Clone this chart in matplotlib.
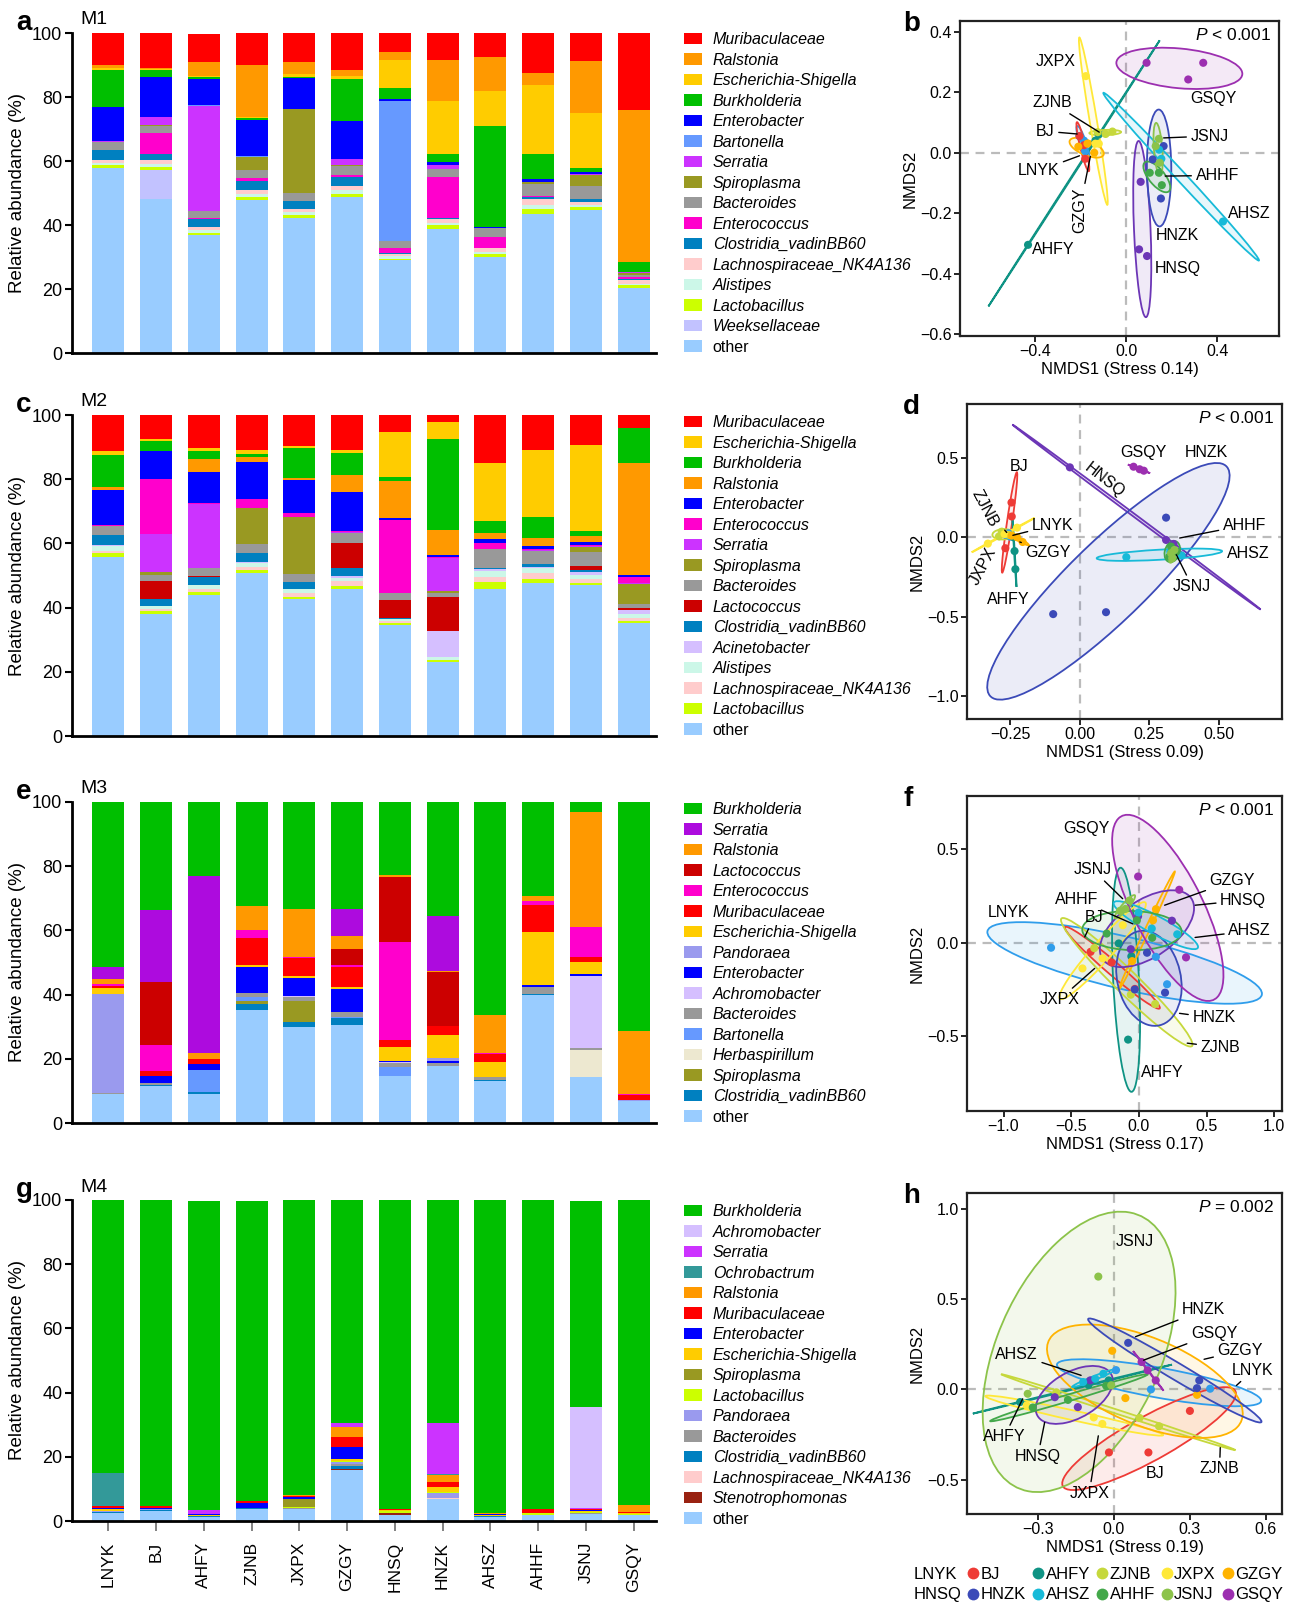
import numpy as np
import matplotlib
matplotlib.use('Agg')
import matplotlib.pyplot as plt
from matplotlib.patches import Patch, Ellipse
from matplotlib.lines import Line2D

plt.rcParams['font.family'] = ['Liberation Sans', 'DejaVu Sans']
plt.rcParams['mathtext.fontset'] = 'custom'
plt.rcParams['mathtext.it'] = 'Liberation Sans:italic'
plt.rcParams['mathtext.rm'] = 'Liberation Sans'
plt.rcParams['axes.unicode_minus'] = True

SITES = ['LNYK', 'BJ', 'AHFY', 'ZJNB', 'JXPX', 'GZGY', 'HNSQ', 'HNZK', 'AHSZ', 'AHHF', 'JSNJ', 'GSQY']

# ---------------- M1 relative abundance (%) ----------------
M1_MURIBACULACEAE = [9.9, 10.8, 9.0, 9.9, 9.2, 11.7, 5.8, 8.3, 7.4, 12.4, 8.9, 24.2]
M1_RALSTONIA = [0.9, 0.3, 4.2, 16.2, 3.5, 1.6, 2.5, 13.1, 10.6, 3.7, 16.2, 47.3]
M1_ESCHERICHIA = [0.9, 0.6, 0.5, 0.5, 0.9, 1.2, 9.0, 16.5, 11.2, 21.8, 17.2, 0.0]
M1_BURKHOLDERIA = [11.3, 1.9, 0.6, 0.7, 0.6, 13.1, 3.2, 2.5, 31.4, 7.8, 1.1, 3.1]
M1_ENTEROBACTER = [10.9, 12.8, 8.1, 11.1, 9.4, 11.9, 0.6, 0.9, 0.4, 0.9, 0.7, 0.0]
M1_BARTONELLA = [0.0, 0.0, 0.2, 0.4, 0.3, 0.0, 43.9, 0.0, 0.0, 0.0, 0.0, 0.0]
M1_SERRATIA = [0.2, 2.3, 32.9, 0.0, 0.0, 1.7, 0.0, 1.3, 0.0, 0.0, 0.3, 0.5]
M1_SPIROPLASMA = [0.0, 0.3, 0.0, 4.1, 26.2, 0.3, 0.0, 0.0, 0.0, 0.6, 3.5, 0.5]
M1_BACTEROIDES = [2.6, 2.4, 2.0, 2.5, 2.4, 2.9, 2.2, 2.5, 2.8, 3.8, 3.9, 0.6]
M1_ENTEROCOCCUS = [0.0, 6.3, 0.5, 1.0, 0.0, 0.7, 1.6, 12.7, 3.4, 0.3, 0.0, 0.7]
M1_CLOSTRIDIA = [2.9, 2.1, 2.4, 2.8, 2.5, 2.8, 0.3, 0.4, 0.0, 0.6, 1.0, 0.3]
M1_LACHNO = [0.9, 1.0, 1.0, 1.2, 0.9, 1.2, 0.6, 1.2, 1.2, 1.9, 0.8, 1.1]
M1_ALISTIPES = [0.8, 1.2, 0.8, 0.9, 0.9, 1.3, 0.8, 0.6, 0.7, 1.3, 0.9, 0.5]
M1_LACTOBACILLUS = [0.9, 0.9, 0.7, 0.9, 0.9, 0.9, 0.3, 1.3, 0.9, 1.5, 0.8, 0.8]
M1_WEEKSELLACEAE = [0.0, 9.1, 0.0, 0.0, 0.0, 0.0, 0.0, 0.0, 0.0, 0.0, 0.0, 0.0]
M1_OTHER = [57.8, 48.0, 36.9, 47.8, 42.3, 48.7, 29.2, 38.7, 30.0, 43.4, 44.7, 20.4]

# ---------------- M2 ----------------
M2_MURIBACULACEAE = [11.2, 7.5, 10.3, 10.9, 9.6, 10.9, 5.3, 2.2, 14.9, 10.9, 9.3, 4.0]
M2_ESCHERICHIA = [1.3, 0.6, 0.9, 1.2, 0.6, 0.9, 14.0, 5.3, 18.1, 20.8, 26.8, 0.0]
M2_BURKHOLDERIA = [10.0, 3.1, 2.5, 1.0, 9.4, 6.9, 1.2, 28.3, 3.7, 6.5, 1.5, 10.9]
M2_RALSTONIA = [0.8, 0.0, 4.0, 1.4, 0.6, 5.2, 11.5, 7.7, 1.8, 2.5, 1.9, 34.8]
M2_ENTEROBACTER = [11.1, 8.7, 9.6, 11.6, 10.3, 12.2, 0.6, 0.6, 1.3, 1.0, 1.1, 0.7]
M2_ENTEROCOCCUS = [0.3, 17.1, 0.3, 2.8, 1.2, 0.2, 22.7, 0.4, 1.9, 0.3, 0.1, 1.8]
M2_SERRATIA = [0.0, 11.8, 20.0, 0.0, 0.0, 0.4, 0.0, 10.4, 0.0, 0.3, 0.3, 0.6]
M2_SPIROPLASMA = [0.0, 0.9, 0.0, 11.4, 17.7, 0.0, 0.0, 0.4, 0.0, 0.0, 1.6, 6.0]
M2_BACTEROIDES = [2.8, 1.9, 2.5, 2.8, 2.5, 3.1, 2.2, 1.3, 5.9, 4.0, 4.3, 1.2]
M2_LACTOCOCCUS = [0.0, 5.6, 0.3, 0.0, 0.0, 7.8, 5.6, 10.6, 0.0, 0.0, 1.5, 0.9]
M2_CLOSTRIDIA = [2.9, 2.2, 2.6, 2.6, 2.2, 2.7, 0.3, 0.0, 0.3, 1.0, 0.4, 0.0]
M2_ACINETOBACTER = [0.5, 0.0, 0.0, 0.4, 0.0, 0.4, 0.0, 8.2, 0.6, 0.5, 0.9, 1.0]
M2_ALISTIPES = [1.4, 0.9, 1.1, 1.4, 1.4, 1.1, 0.8, 1.0, 1.9, 1.3, 1.3, 1.4]
M2_LACHNO = [0.6, 0.9, 0.9, 0.7, 1.1, 1.4, 0.5, 0.0, 1.5, 1.9, 1.4, 0.9]
M2_LACTOBACILLUS = [1.2, 0.7, 1.0, 1.1, 0.8, 0.9, 0.6, 0.7, 2.2, 1.2, 0.7, 0.5]
M2_OTHER = [55.9, 38.1, 44.0, 50.7, 42.6, 45.9, 34.7, 22.9, 45.9, 47.8, 46.9, 35.3]

# ---------------- M3 ----------------
M3_BURKHOLDERIA = [51.5, 33.5, 22.9, 32.5, 33.2, 33.2, 22.6, 35.6, 66.4, 29.4, 3.0, 71.4]
M3_SERRATIA = [3.7, 22.7, 55.3, 0.0, 0.0, 8.7, 0.0, 17.1, 0.0, 0.0, 0.0, 0.0]
M3_RALSTONIA = [1.6, 0.0, 1.9, 7.5, 15.2, 4.0, 0.9, 0.4, 11.8, 1.3, 35.8, 19.6]
M3_LACTOCOCCUS = [0.0, 19.6, 0.0, 0.0, 0.0, 5.0, 20.2, 16.7, 0.0, 0.0, 0.0, 0.0]
M3_ENTEROCOCCUS = [0.5, 8.0, 0.0, 2.5, 0.3, 0.6, 30.5, 0.0, 0.3, 1.5, 9.6, 0.3]
M3_MURIBACULACEAE = [0.7, 1.6, 1.6, 8.4, 5.6, 6.2, 2.2, 2.8, 2.5, 8.4, 1.5, 1.6]
M3_ESCHERICHIA = [1.9, 0.0, 0.0, 0.6, 0.6, 0.6, 4.3, 7.2, 4.7, 16.5, 3.8, 0.0]
M3_PANDORAEA = [30.8, 0.0, 0.0, 0.0, 0.0, 0.0, 0.0, 0.9, 0.0, 0.0, 0.0, 0.3]
M3_ENTEROBACTER = [0.0, 2.2, 1.8, 8.1, 5.6, 7.2, 0.3, 0.6, 0.0, 0.6, 0.6, 0.0]
M3_ACHROMOBACTER = [0.0, 0.0, 0.0, 0.0, 0.3, 0.0, 0.3, 0.0, 0.0, 0.0, 22.4, 0.0]
M3_BACTEROIDES = [0.3, 0.6, 0.0, 1.2, 1.3, 1.6, 1.3, 1.0, 0.9, 2.2, 0.6, 0.0]
M3_BARTONELLA = [0.0, 0.0, 6.9, 1.3, 0.0, 0.3, 2.8, 0.0, 0.0, 0.0, 0.0, 0.0]
M3_HERBASPIRILLUM = [0.0, 0.0, 0.0, 0.0, 0.0, 0.0, 0.0, 0.0, 0.0, 0.0, 8.4, 0.0]
M3_SPIROPLASMA = [0.0, 0.0, 0.0, 0.9, 6.5, 0.0, 0.0, 0.0, 0.0, 0.0, 0.0, 0.0]
M3_CLOSTRIDIA = [0.0, 0.3, 0.6, 1.9, 1.6, 2.1, 0.0, 0.0, 0.3, 0.3, 0.0, 0.0]
M3_OTHER = [9.0, 11.5, 9.0, 35.1, 29.8, 30.5, 14.6, 17.7, 13.1, 39.8, 14.3, 6.8]

# ---------------- M4 ----------------
M4_BURKHOLDERIA = [84.9, 95.3, 96.4, 93.5, 91.9, 69.4, 96.3, 69.6, 97.6, 96.4, 64.1, 95.1]
M4_ACHROMOBACTER = [0.0, 0.0, 0.0, 0.0, 0.0, 0.0, 0.0, 0.0, 0.0, 0.0, 31.4, 0.0]
M4_SERRATIA = [0.0, 0.0, 1.0, 0.0, 0.0, 1.4, 0.0, 15.9, 0.0, 0.0, 0.4, 0.0]
M4_OCHROBACTRUM = [10.5, 0.0, 0.0, 0.0, 0.0, 0.0, 0.0, 0.2, 0.0, 0.0, 0.0, 0.0]
M4_RALSTONIA = [0.0, 0.0, 0.0, 0.0, 0.2, 2.9, 0.0, 2.3, 0.3, 0.0, 0.0, 2.1]
M4_MURIBACULACEAE = [0.5, 0.5, 0.0, 0.7, 0.3, 3.3, 0.3, 1.3, 0.0, 1.0, 0.3, 0.3]
M4_ENTEROBACTER = [0.3, 0.5, 0.3, 1.3, 0.6, 3.8, 0.0, 0.0, 0.3, 0.0, 0.4, 0.0]
M4_ESCHERICHIA = [0.6, 0.0, 0.4, 0.0, 0.3, 0.5, 0.3, 1.8, 0.3, 0.0, 0.3, 0.3]
M4_SPIROPLASMA = [0.0, 0.0, 0.0, 0.0, 2.4, 0.0, 0.0, 0.0, 0.0, 0.0, 0.0, 0.0]
M4_LACTOBACILLUS = [0.0, 0.0, 0.0, 0.3, 0.4, 0.4, 0.5, 0.3, 0.0, 0.7, 0.3, 0.3]
M4_PANDORAEA = [0.3, 0.3, 0.0, 0.0, 0.0, 0.6, 0.0, 1.3, 0.0, 0.0, 0.0, 0.0]
M4_BACTEROIDES = [0.0, 0.0, 0.0, 0.0, 0.3, 0.6, 0.0, 0.0, 0.0, 0.0, 0.3, 0.0]
M4_CLOSTRIDIA = [0.3, 0.3, 0.3, 0.3, 0.0, 1.0, 0.0, 0.0, 0.3, 0.0, 0.0, 0.0]
M4_LACHNO = [0.0, 0.0, 0.0, 0.0, 0.0, 0.0, 0.0, 0.4, 0.0, 0.0, 0.0, 0.0]
M4_STENOTROPHOMONAS = [0.0, 0.0, 0.0, 0.0, 0.0, 0.3, 0.8, 0.0, 0.0, 0.0, 0.0, 0.0]
M4_OTHER = [2.6, 3.1, 1.3, 3.6, 3.6, 15.8, 1.8, 6.9, 1.2, 1.9, 2.2, 1.9]

# ---------------- NMDS scores (3 replicates per site, site order as SITES) ----------------
B_X = [-0.205, -0.18, -0.185, -0.205, -0.18, -0.185, -0.431, -0.12, -0.135, -0.125, -0.06, -0.09,
       -0.177, -0.135, -0.12, -0.21, -0.14, -0.17, 0.064, 0.057, 0.092, 0.165, 0.117, 0.153,
       0.426, 0.145, 0.155, 0.104, 0.144, 0.157, 0.144, 0.13, 0.148, 0.09, 0.273, 0.339]
B_Y = [0.055, 0.005, 0.04, 0.055, -0.02, 0.025, -0.304, 0.06, 0.04, 0.068, 0.07, 0.062,
       0.253, 0.03, 0.03, 0.02, 0.0, 0.03, -0.096, -0.319, -0.341, 0.022, -0.022, -0.151,
       -0.227, 0.01, -0.02, -0.066, -0.066, -0.107, 0.046, 0.022, -0.033, 0.297, 0.242, 0.297]

D_X = [-0.266, -0.25, -0.256, -0.245, -0.267, -0.244, -0.231, -0.238, -0.234, -0.28, -0.255, -0.29,
       -0.33, -0.27, -0.225, -0.245, -0.205, -0.225, -0.035, 0.311, 0.338, 0.311, -0.095, 0.095,
       0.168, 0.326, 0.367, 0.329, 0.323, 0.348, 0.329, 0.341, 0.333, 0.194, 0.216, 0.231]
D_Y = [0.015, 0.004, 0.025, 0.218, -0.069, 0.13, -0.201, 0.0, -0.087, 0.035, 0.015, 0.005,
       -0.04, 0.02, 0.06, 0.01, -0.03, 0.0, 0.439, -0.017, -0.042, 0.123, -0.483, -0.471,
       -0.125, -0.09, -0.115, -0.059, -0.121, -0.09, -0.1, -0.08, -0.132, 0.443, 0.427, 0.418]

F_X = [-0.649, 0.125, 0.208, -0.357, -0.03, -0.202, -0.08, -0.149, -0.056, -0.33, 0.12, -0.06,
       -0.268, -0.119, -0.417, 0.104, -0.05, 0.126, 0.244, -0.06, -0.006, 0.06, 0.193, -0.031,
       0.283, 0.095, -0.003, -0.238, 0.098, -0.015, -0.14, -0.07, -0.1, -0.006, 0.298, 0.348]
F_Y = [-0.028, -0.077, -0.224, -0.05, -0.249, -0.107, -0.521, -0.005, -0.074, -0.03, -0.33, -0.28,
       -0.085, 0.093, -0.139, 0.119, -0.1, 0.179, 0.117, -0.036, 0.141, -0.055, -0.269, -0.252,
       0.044, 0.075, 0.16, 0.048, 0.025, 0.119, 0.17, 0.225, 0.18, 0.354, 0.283, -0.08]

H_X = [0.147, 0.381, 0.009, -0.019, 0.137, 0.301, -0.37, -0.1, -0.02, 0.179, 0.102, -0.227,
       -0.045, -0.344, -0.079, -0.006, 0.046, 0.329, -0.093, -0.142, -0.233, 0.057, 0.338, 0.329,
       -0.041, -0.121, -0.073, -0.32, -0.03, -0.181, -0.061, -0.34, -0.01, 0.11, 0.166, 0.134]
H_Y = [0.0, 0.004, 0.107, -0.349, -0.349, -0.119, -0.07, 0.025, 0.05, -0.204, -0.158, -0.016,
       -0.191, -0.089, -0.155, 0.214, -0.048, -0.03, 0.05, -0.098, -0.043, 0.258, 0.05, 0.007,
       0.087, 0.041, 0.059, -0.1, 0.02, -0.058, 0.625, -0.024, 0.023, 0.152, 0.05, 0.106]

STRESS = ['0.14', '0.09', '0.17', '0.19']
P_TEXT = ['< 0.001', '< 0.001', '< 0.001', '= 0.002']

# ---------------- styling ----------------
TAXON_COLORS = {
    'Muribaculaceae': '#FF0000', 'Ralstonia': '#FF9900', 'Escherichia-Shigella': '#FFCC00',
    'Burkholderia': '#00BF00', 'Enterobacter': '#0000FF', 'Bartonella': '#6699FF',
    'Serratia': '#CC33FF', 'Spiroplasma': '#999922', 'Bacteroides': '#999999',
    'Enterococcus': '#FF00CC', 'Clostridia_vadinBB60': '#0080C0',
    'Lachnospiraceae_NK4A136': '#FFCCCC', 'Alistipes': '#CCF7E8', 'Lactobacillus': '#CCFF00',
    'Weeksellaceae': '#C2C2FF', 'other': '#99CCFF', 'Lactococcus': '#CC0000',
    'Acinetobacter': '#D5BFFF', 'Pandoraea': '#9A9AEE', 'Achromobacter': '#D5BFFF',
    'Herbaspirillum': '#EDE8D0', 'Ochrobactrum': '#339999', 'Stenotrophomonas': '#992211'}

SITE_COLORS = {'LNYK': '#2F9DEB', 'BJ': '#EE3B36', 'AHFY': '#0F9384', 'ZJNB': '#C6D83C',
               'JXPX': '#FFE838', 'GZGY': '#FFB300', 'HNSQ': '#6C36B6', 'HNZK': '#3B4AB8',
               'AHSZ': '#17BAD8', 'AHHF': '#43A84A', 'JSNJ': '#8CC34A', 'GSQY': '#9C2FB0'}

PANELS = [
    ('M1', [('Muribaculaceae', M1_MURIBACULACEAE), ('Ralstonia', M1_RALSTONIA),
            ('Escherichia-Shigella', M1_ESCHERICHIA), ('Burkholderia', M1_BURKHOLDERIA),
            ('Enterobacter', M1_ENTEROBACTER), ('Bartonella', M1_BARTONELLA),
            ('Serratia', M1_SERRATIA), ('Spiroplasma', M1_SPIROPLASMA),
            ('Bacteroides', M1_BACTEROIDES), ('Enterococcus', M1_ENTEROCOCCUS),
            ('Clostridia_vadinBB60', M1_CLOSTRIDIA), ('Lachnospiraceae_NK4A136', M1_LACHNO),
            ('Alistipes', M1_ALISTIPES), ('Lactobacillus', M1_LACTOBACILLUS),
            ('Weeksellaceae', M1_WEEKSELLACEAE), ('other', M1_OTHER)], {}),
    ('M2', [('Muribaculaceae', M2_MURIBACULACEAE), ('Escherichia-Shigella', M2_ESCHERICHIA),
            ('Burkholderia', M2_BURKHOLDERIA), ('Ralstonia', M2_RALSTONIA),
            ('Enterobacter', M2_ENTEROBACTER), ('Enterococcus', M2_ENTEROCOCCUS),
            ('Serratia', M2_SERRATIA), ('Spiroplasma', M2_SPIROPLASMA),
            ('Bacteroides', M2_BACTEROIDES), ('Lactococcus', M2_LACTOCOCCUS),
            ('Clostridia_vadinBB60', M2_CLOSTRIDIA), ('Acinetobacter', M2_ACINETOBACTER),
            ('Alistipes', M2_ALISTIPES), ('Lachnospiraceae_NK4A136', M2_LACHNO),
            ('Lactobacillus', M2_LACTOBACILLUS), ('other', M2_OTHER)], {}),
    ('M3', [('Burkholderia', M3_BURKHOLDERIA), ('Serratia', M3_SERRATIA),
            ('Ralstonia', M3_RALSTONIA), ('Lactococcus', M3_LACTOCOCCUS),
            ('Enterococcus', M3_ENTEROCOCCUS), ('Muribaculaceae', M3_MURIBACULACEAE),
            ('Escherichia-Shigella', M3_ESCHERICHIA), ('Pandoraea', M3_PANDORAEA),
            ('Enterobacter', M3_ENTEROBACTER), ('Achromobacter', M3_ACHROMOBACTER),
            ('Bacteroides', M3_BACTEROIDES), ('Bartonella', M3_BARTONELLA),
            ('Herbaspirillum', M3_HERBASPIRILLUM), ('Spiroplasma', M3_SPIROPLASMA),
            ('Clostridia_vadinBB60', M3_CLOSTRIDIA), ('other', M3_OTHER)], {'Serratia': '#AD0BDE'}),
    ('M4', [('Burkholderia', M4_BURKHOLDERIA), ('Achromobacter', M4_ACHROMOBACTER),
            ('Serratia', M4_SERRATIA), ('Ochrobactrum', M4_OCHROBACTRUM),
            ('Ralstonia', M4_RALSTONIA), ('Muribaculaceae', M4_MURIBACULACEAE),
            ('Enterobacter', M4_ENTEROBACTER), ('Escherichia-Shigella', M4_ESCHERICHIA),
            ('Spiroplasma', M4_SPIROPLASMA), ('Lactobacillus', M4_LACTOBACILLUS),
            ('Pandoraea', M4_PANDORAEA), ('Bacteroides', M4_BACTEROIDES),
            ('Clostridia_vadinBB60', M4_CLOSTRIDIA), ('Lachnospiraceae_NK4A136', M4_LACHNO),
            ('Stenotrophomonas', M4_STENOTROPHOMONAS), ('other', M4_OTHER)], {}),
]

W, H = 1295, 1604
fig = plt.figure(figsize=(W / 100, H / 100), dpi=100)


def fbox(x0, y0, x1, y1):
    return [x0 / W, 1 - y1 / H, (x1 - x0) / W, (y1 - y0) / H]


BAR_ROWS = [(33, 353), (415, 736), (802, 1123), (1200, 1521)]
LEG_TOPS = [32, 415, 802, 1204]
NMDS_BOXES = [(960, 21, 1279, 336), (967, 404, 1282, 719), (967, 796, 1282, 1111), (967, 1193, 1282, 1514)]
LETTERS_L = ['a', 'c', 'e', 'g']
LETTERS_R = ['b', 'd', 'f', 'h']

x = np.arange(len(SITES))
for r, (mname, taxa, override) in enumerate(PANELS):
    top, bot = BAR_ROWS[r]
    ax = fig.add_axes(fbox(72, top, 656, bot))
    bottom = np.zeros(len(SITES))
    handles = []
    for name, vals in reversed(taxa):
        col = override.get(name, TAXON_COLORS[name])
        v = np.array(vals, dtype=float)
        ax.bar(x, v, width=0.67, bottom=bottom, color=col, edgecolor='none', linewidth=0)
        bottom += v
    for name, vals in taxa:
        col = override.get(name, TAXON_COLORS[name])
        handles.append(Patch(facecolor=col, edgecolor='none', label=name))
    ax.set_xlim(-0.76, 11.47)
    ax.set_ylim(0, 100)
    ax.set_yticks([0, 20, 40, 60, 80, 100])
    ax.tick_params(axis='y', labelsize=13, length=5, width=1.5, pad=2)
    for s in ['top', 'right']:
        ax.spines[s].set_visible(False)
    ax.spines['left'].set_linewidth(2)
    ax.spines['bottom'].set_linewidth(2)
    ax.set_ylabel('Relative abundance (%)', fontsize=13.5, labelpad=4)
    if r == 3:
        ax.set_xticks(x)
        ax.set_xticklabels(SITES, rotation=90, fontsize=12.5)
        ax.tick_params(axis='x', length=7, width=1.3, color='#777777', pad=8)
    else:
        ax.set_xticks([])
    fig.text(16 / W, 1 - (top - 10) / H, LETTERS_L[r], fontsize=20, fontweight='bold', va='center', ha='left')
    fig.text(80 / W, 1 - (top - 13) / H, mname, fontsize=14, va='center', ha='left')
    leg = fig.legend(handles=handles, loc='upper left', bbox_to_anchor=(684 / W, 1 - LEG_TOPS[r] / H),
                     frameon=False, fontsize=11.5, handlelength=1.1, handleheight=0.7,
                     handletextpad=0.7, labelspacing=0.345, borderpad=0, borderaxespad=0)
    for t in leg.get_texts():
        if t.get_text() != 'other':
            t.set_fontstyle('italic')

# ---------------- NMDS panels ----------------
ELL_SCALE = np.sqrt(-2 * np.log(0.10))  # 90 % normal-theory confidence ellipse


def minus(v, fmt):
    return (fmt % v).replace('-', '\u2212')


NMDS_DATA = [(B_X, B_Y), (D_X, D_Y), (F_X, F_Y), (H_X, H_Y)]
XLIMS = [(-0.73, 0.672), (-0.405, 0.728), (-1.27, 1.057), (-0.58, 0.665)]
YLIMS = [(-0.605, 0.435), (-1.142, 0.837), (-0.904, 0.786), (-0.69, 1.088)]
XTICKS = [([-0.4, 0.0, 0.4], '%.1f'), ([-0.25, 0.0, 0.25, 0.5], '%.2f'),
          ([-1.0, -0.5, 0.0, 0.5, 1.0], '%.1f'), ([-0.3, 0.0, 0.3, 0.6], '%.1f')]
YTICKS = [([-0.6, -0.4, -0.2, 0.0, 0.2, 0.4], '%.1f'), ([-1.0, -0.5, 0.0, 0.5], '%.1f'),
          ([-0.5, 0.0, 0.5], '%.1f'), ([-0.5, 0.0, 0.5, 1.0], '%.1f')]

# label: (site, text x, text y, leader target or None, ha, rotation)
LABELS = [
    [('JXPX', -0.31, 0.302, None, 'center', 0), ('GSQY', 0.383, 0.178, None, 'center', 0),
     ('ZJNB', -0.325, 0.165, (-0.118, 0.068), 'center', 0), ('BJ', -0.355, 0.071, (-0.215, 0.062), 'center', 0),
     ('LNYK', -0.385, -0.06, (-0.205, -0.01), 'center', 0), ('GZGY', -0.205, -0.19, (-0.157, -0.012), 'center', 90),
     ('JSNJ', 0.283, 0.055, (0.165, 0.049), 'left', 0), ('AHHF', 0.305, -0.075, (0.172, -0.077), 'left', 0),
     ('AHSZ', 0.54, -0.2, None, 'center', 0), ('HNZK', 0.226, -0.272, None, 'center', 0),
     ('HNSQ', 0.226, -0.383, None, 'center', 0), ('AHFY', -0.415, -0.32, None, 'left', 0)],
    [('BJ', -0.218, 0.445, None, 'center', 0), ('ZJNB', -0.34, 0.182, (-0.262, 0.03), 'center', -62),
     ('LNYK', -0.172, 0.075, (-0.24, 0.012), 'left', 0), ('GZGY', -0.195, -0.095, (-0.215, -0.03), 'left', 0),
     ('JXPX', -0.348, -0.185, None, 'center', 62), ('AHFY', -0.256, -0.39, None, 'center', 0),
     ('HNSQ', 0.09, 0.36, None, 'center', -38), ('GSQY', 0.231, 0.535, None, 'center', 0),
     ('HNZK', 0.455, 0.535, None, 'center', 0), ('AHHF', 0.515, 0.075, (0.36, -0.005), 'left', 0),
     ('AHSZ', 0.53, -0.1, None, 'left', 0), ('JSNJ', 0.405, -0.31, (0.348, -0.11), 'center', 0)],
    [('GSQY', -0.39, 0.61, None, 'center', 0), ('JSNJ', -0.34, 0.39, (-0.12, 0.235), 'center', 0),
     ('GZGY', 0.69, 0.33, (0.19, 0.2), 'center', 0), ('HNSQ', 0.6, 0.226, (0.415, 0.2), 'left', 0),
     ('AHHF', -0.46, 0.232, (-0.045, 0.1), 'center', 0), ('LNYK', -0.965, 0.16, None, 'center', 0),
     ('BJ', -0.333, 0.135, (-0.4, 0.03), 'center', 0), ('AHSZ', 0.66, 0.062, (0.415, 0.027), 'left', 0),
     ('JXPX', -0.585, -0.305, (-0.327, -0.139), 'center', 0), ('HNZK', 0.395, -0.405, (0.3, -0.38), 'left', 0),
     ('ZJNB', 0.455, -0.562, (0.357, -0.54), 'left', 0), ('AHFY', 0.175, -0.7, None, 'center', 0)],
    [('JSNJ', 0.083, 0.82, None, 'center', 0), ('HNZK', 0.27, 0.44, (0.086, 0.292), 'left', 0),
     ('GSQY', 0.305, 0.31, (0.118, 0.162), 'left', 0), ('GZGY', 0.41, 0.214, (0.357, 0.167), 'left', 0),
     ('LNYK', 0.55, 0.106, (0.485, 0.022), 'center', 0), ('AHSZ', -0.384, 0.195, (-0.129, 0.078), 'center', 0),
     ('AHFY', -0.432, -0.262, (-0.36, -0.052), 'center', 0), ('HNSQ', -0.3, -0.37, (-0.273, -0.182), 'center', 0),
     ('JXPX', -0.097, -0.575, (-0.061, -0.257), 'center', 0), ('BJ', 0.163, -0.465, None, 'center', 0),
     ('ZJNB', 0.418, -0.44, (0.421, -0.322), 'center', 0)],
]

for r in range(4):
    X, Y = NMDS_DATA[r]
    ax = fig.add_axes(fbox(*NMDS_BOXES[r]))
    ax.set_xlim(*XLIMS[r])
    ax.set_ylim(*YLIMS[r])
    ax.axhline(0, color='#BBBBBB', lw=1.6, ls=(0, (4, 3)), zorder=0)
    ax.axvline(0, color='#BBBBBB', lw=1.6, ls=(0, (4, 3)), zorder=0)
    for i, site in enumerate(SITES):
        pts = np.column_stack([X[3 * i:3 * i + 3], Y[3 * i:3 * i + 3]])
        mu = pts.mean(axis=0)
        cov = np.cov(pts.T)
        vals, vecs = np.linalg.eigh(cov)
        order = vals.argsort()[::-1]
        vals, vecs = np.maximum(vals[order], 0), vecs[:, order]
        ang = np.degrees(np.arctan2(vecs[1, 0], vecs[0, 0]))
        w, h = 2 * ELL_SCALE * np.sqrt(vals)
        c = SITE_COLORS[site]
        ax.add_patch(Ellipse(mu, w, h, angle=ang, facecolor=c, edgecolor='none', alpha=0.1, zorder=1))
        ax.add_patch(Ellipse(mu, w, h, angle=ang, facecolor='none', edgecolor=c, lw=1.3, zorder=2))
    for i, site in enumerate(SITES):
        ax.scatter(X[3 * i:3 * i + 3], Y[3 * i:3 * i + 3], s=34, color=SITE_COLORS[site],
                   edgecolor='none', zorder=3)
    for (site, tx, ty, tgt, ha, rot) in LABELS[r]:
        if tgt is None:
            ax.text(tx, ty, site, fontsize=11.5, ha=ha, va='center', rotation=rot, zorder=5)
        else:
            ax.annotate(site, xy=tgt, xytext=(tx, ty), fontsize=11.5, ha=ha, va='center', rotation=rot,
                        arrowprops=dict(arrowstyle='-', lw=1.0, color='black', shrinkA=1, shrinkB=0),
                        zorder=5)
    ax.text(0.975, 0.955, r'$\it{P}$ ' + P_TEXT[r], transform=ax.transAxes, fontsize=12.5,
            ha='right', va='center')
    xt, xf = XTICKS[r]
    yt, yf = YTICKS[r]
    ax.set_xticks(xt)
    ax.set_xticklabels([minus(v, xf) for v in xt])
    ax.set_yticks(yt)
    ax.set_yticklabels([minus(v, yf) for v in yt])
    ax.tick_params(labelsize=11.5, length=4, width=1.2, pad=2)
    for s in ax.spines.values():
        s.set_linewidth(1.6)
        s.set_color('#222222')
    ax.set_xlabel('NMDS1 (Stress %s)' % STRESS[r], fontsize=12, labelpad=2)
    ax.set_ylabel('NMDS2', fontsize=12, labelpad=2)
    y0 = NMDS_BOXES[r][1]
    fig.text(903 / W, 1 - (y0 + 3) / H, LETTERS_R[r], fontsize=20, fontweight='bold', va='center', ha='left')

# ---------------- site legend ----------------
order = ['LNYK', 'HNSQ', 'BJ', 'HNZK', 'AHFY', 'AHSZ', 'ZJNB', 'AHHF', 'JXPX', 'JSNJ', 'GZGY', 'GSQY']
shandles = []
for s in order:
    alpha = 0.0 if s in ('LNYK', 'HNSQ') else 1.0
    shandles.append(Line2D([], [], marker='o', ls='', markersize=8.5, markerfacecolor=SITE_COLORS[s],
                           markeredgecolor='none', alpha=alpha, label=s))
fig.legend(handles=shandles, loc='upper left', bbox_to_anchor=(901 / W, 1 - 1567 / H), ncol=6,
           frameon=False, fontsize=12, handlelength=0.6, handletextpad=0.15, columnspacing=0.42,
           labelspacing=0.32, borderpad=0, borderaxespad=0)

fig.savefig('out.png', dpi=100)
